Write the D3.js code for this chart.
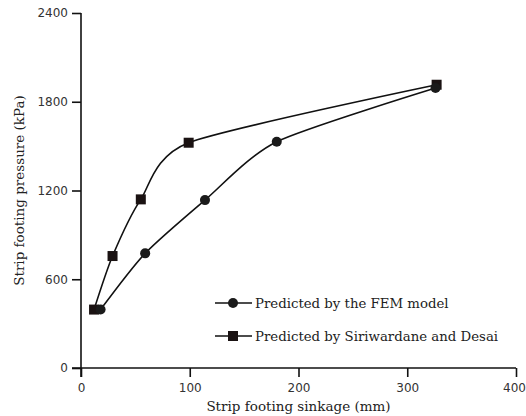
<!DOCTYPE html>
<html>
<head>
<meta charset="utf-8">
<script src="https://cdn.jsdelivr.net/npm/d3@7"></script>
<style>
  body { margin: 0; background: #fff; }
  svg { display: block; }
</style>
</head>
<body>
<div id="chart"></div>
<script>
// values
const femSinkage = [18, 59, 114, 180, 326];
const femPressure = [395, 775, 1135, 1530, 1893];
const siriSinkage = [12, 29, 55, 99, 327];
const siriPressure = [395, 757, 1140, 1523, 1915];
const xTicks = [0, 100, 200, 300, 400];
const yTicks = [0, 600, 1200, 1800, 2400];
const seriesNames = ['Predicted by the FEM model', 'Predicted by Siriwardane and Desai'];

const width = 526, height = 416;
const plotLeft = 81, plotRight = 516, plotTop = 13, plotBottom = 368;

const svg = d3.select('#chart').append('svg')
  .attr('width', width)
  .attr('height', height);

const x = d3.scaleLinear().domain([0, 400]).range([plotLeft, plotRight]);
const y = d3.scaleLinear().domain([0, 2400]).range([plotBottom, plotTop]);

const xAxis = svg.append('g')
  .attr('transform', `translate(0,${plotBottom})`)
  .call(d3.axisBottom(x).tickValues(xTicks).tickFormat(d3.format('d')).tickSize(9).tickPadding(6));

const yAxis = svg.append('g')
  .attr('transform', `translate(${plotLeft},0)`)
  .call(d3.axisLeft(y).tickValues(yTicks).tickFormat(d3.format('d')).tickSize(9).tickPadding(4));

[xAxis, yAxis].forEach(g => {
  g.select('.domain').remove();
  g.selectAll('line').attr('stroke', '#111').attr('stroke-width', 1.6);
  g.selectAll('text')
    .attr('fill', '#333')
    .style('font-family', 'DejaVu Sans, sans-serif')
    .style('font-size', '12px');
});
// last label sits against the right edge
xAxis.selectAll('.tick:last-of-type text').attr('dx', '-2');

// axis lines (x axis extends a little left of the y axis)
svg.append('line')
  .attr('x1', plotLeft - 9).attr('x2', plotRight)
  .attr('y1', plotBottom).attr('y2', plotBottom)
  .attr('stroke', '#111').attr('stroke-width', 1.6);
svg.append('line')
  .attr('x1', plotLeft).attr('x2', plotLeft)
  .attr('y1', plotTop).attr('y2', plotBottom + 9)
  .attr('stroke', '#111').attr('stroke-width', 1.6);

svg.append('text')
  .attr('x', (plotLeft + plotRight) / 2)
  .attr('y', 411)
  .attr('text-anchor', 'middle')
  .style('font-family', 'DejaVu Serif, serif')
  .style('font-size', '13.5px')
  .attr('fill', '#222')
  .text('Strip footing sinkage (mm)');

svg.append('text')
  .attr('transform', `translate(24,${(plotTop + plotBottom) / 2}) rotate(-90)`)
  .attr('text-anchor', 'middle')
  .style('font-family', 'DejaVu Serif, serif')
  .style('font-size', '13.5px')
  .attr('fill', '#222')
  .text('Strip footing pressure (kPa)');

const fem = femSinkage.map((s, i) => ({ s, p: femPressure[i] }));
const siri = siriSinkage.map((s, i) => ({ s, p: siriPressure[i] }));

const line = d3.line()
  .x(d => x(d.s))
  .y(d => y(d.p))
  .curve(d3.curveCardinal.tension(0.3));

svg.append('path').datum(fem)
  .attr('d', line)
  .attr('fill', 'none').attr('stroke', '#111').attr('stroke-width', 1.6);
svg.append('path').datum(siri)
  .attr('d', line)
  .attr('fill', 'none').attr('stroke', '#111').attr('stroke-width', 1.6);

svg.selectAll('.sq').data(siri).enter().append('rect')
  .attr('x', d => x(d.s) - 5)
  .attr('y', d => y(d.p) - 5)
  .attr('width', 10).attr('height', 10)
  .attr('fill', '#1a1212');

svg.selectAll('.dot').data(fem).enter().append('circle')
  .attr('cx', d => x(d.s))
  .attr('cy', d => y(d.p))
  .attr('r', 5)
  .attr('fill', '#1a1a1a');

// legend
const legend = svg.append('g');
seriesNames.forEach((name, i) => {
  const ly = 303 + i * 33;
  legend.append('line')
    .attr('x1', 215).attr('x2', 252)
    .attr('y1', ly).attr('y2', ly)
    .attr('stroke', '#111').attr('stroke-width', 1.6);
  if (i === 0) {
    legend.append('circle').attr('cx', 233).attr('cy', ly).attr('r', 5).attr('fill', '#1a1a1a');
  } else {
    legend.append('rect').attr('x', 228).attr('y', ly - 5).attr('width', 10).attr('height', 10).attr('fill', '#1a1212');
  }
  legend.append('text')
    .attr('x', 255).attr('y', ly + 5)
    .style('font-family', 'DejaVu Serif, serif')
    .style('font-size', '13.3px')
    .attr('fill', '#222')
    .text(name);
});
</script>
</body>
</html>
